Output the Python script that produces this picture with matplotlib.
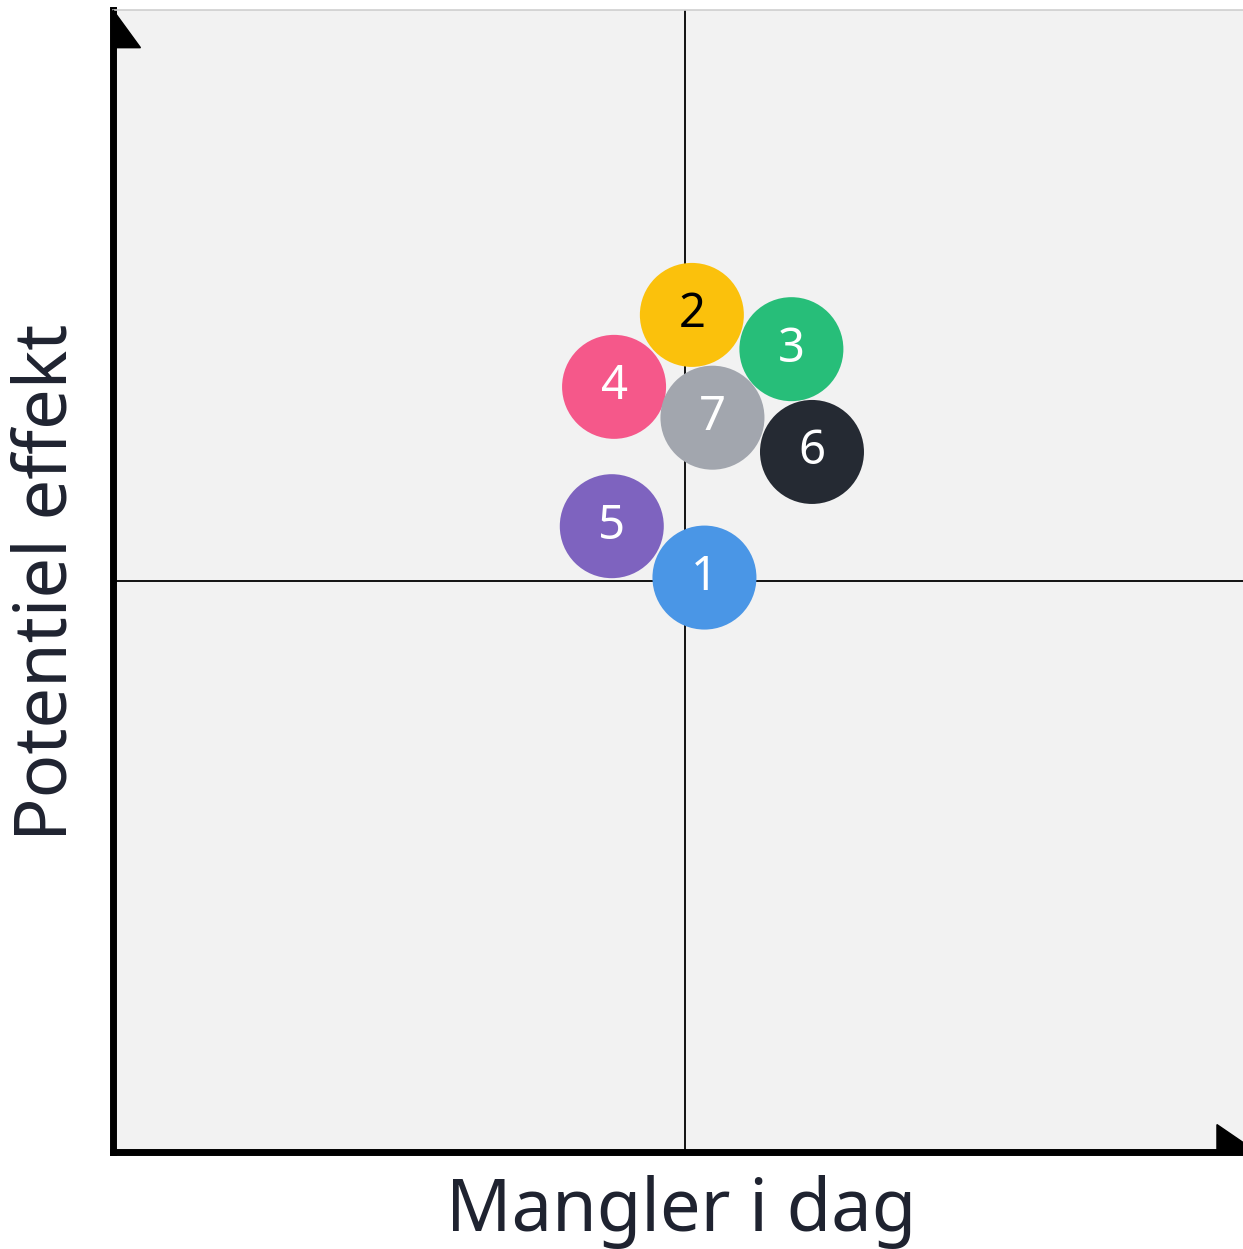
import matplotlib.pyplot as plt
from matplotlib.patches import Polygon

# Bubble data (axes span 0..10 with the quadrant split at 5)
labels = ["1", "2", "3", "4", "5", "6", "7"]
x_vals = [5.17, 5.06, 5.93, 4.38, 4.36, 6.11, 5.24]
y_vals = [5.03, 7.33, 7.03, 6.70, 5.48, 6.13, 6.43]
colors = ["#4a96e6", "#fbc10c", "#27be79", "#f5588a", "#7e63bf", "#252a33", "#a2a6ae"]
text_colors = ["white", "black", "white", "white", "white", "white", "white"]
draw_order = [1, 2, 3, 6, 5, 4, 0]  # index order, last drawn on top

W, H, DPI = 1243, 1249, 100
fig = plt.figure(figsize=(W / DPI, H / DPI), dpi=DPI)
plt.rcParams['font.family'] = ['Noto Sans', 'DejaVu Sans']

# axes run past the right edge of the figure, as in the reference
ax = fig.add_axes([113 / W, (H - 1152) / H, 1144 / W, 1142 / H])
ax.set_xlim(0, 10)
ax.set_ylim(0, 10)
ax.set_facecolor("#f2f2f2")
fig.patch.set_facecolor("white")

for s in ["left", "bottom"]:
    ax.spines[s].set_linewidth(5)
    ax.spines[s].set_color("black")
ax.spines["top"].set_color("#cfcfcf")
ax.spines["top"].set_linewidth(1.2)
ax.spines["right"].set_visible(False)
ax.set_xticks([])
ax.set_yticks([])

# quadrant lines
ax.axvline(5, color="#111111", lw=1.4, zorder=1)
ax.axhline(5, color="#111111", lw=1.4, zorder=1)

# half arrow heads at the axis ends
ax.add_patch(Polygon([(0, 10), (0.24, 9.67), (0, 9.67)], closed=True,
                     color="black", clip_on=False, zorder=5))
ax.add_patch(Polygon([(10, 0), (9.65, 0.24), (9.65, 0)], closed=True,
                     color="black", clip_on=False, zorder=5))

# bubbles
size = (104 * 72 / DPI) ** 2
for k, i in enumerate(draw_order):
    ax.scatter(x_vals[i], y_vals[i], s=size, color=colors[i], edgecolors="none",
               zorder=3 + k)
    ax.text(x_vals[i], y_vals[i], labels[i], color=text_colors[i], fontsize=34,
            fontweight="medium", ha="center", va="center", zorder=3 + k)

fig.text(681 / W, 1 - 1212 / H, "Mangler i dag", fontsize=52, color="#1f2330",
         ha="center", va="center")
fig.text(48 / W, 1 - 582 / H, "Potentiel effekt", fontsize=52, color="#1f2330",
         ha="center", va="center", rotation=90)

fig.savefig("out.png", dpi=DPI)
